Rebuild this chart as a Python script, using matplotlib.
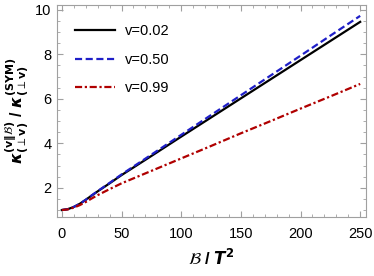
import matplotlib
matplotlib.use('Agg')
import matplotlib.pyplot as plt
from matplotlib.ticker import MultipleLocator

# valores
B = [0, 5, 10, 15, 20, 25, 30, 40, 50, 75, 100, 125, 150, 175, 200, 225, 250]
k002 = [1.0, 1.04, 1.14, 1.28, 1.46, 1.65, 1.84, 2.2, 2.57, 3.43, 4.3, 5.16, 6.02, 6.88, 7.74, 8.6, 9.46]
k050 = [1.0, 1.04, 1.14, 1.28, 1.46, 1.66, 1.85, 2.22, 2.6, 3.49, 4.38, 5.27, 6.16, 7.05, 7.94, 8.84, 9.73]
k099 = [1.0, 1.03, 1.11, 1.22, 1.36, 1.52, 1.67, 1.94, 2.2, 2.76, 3.32, 3.88, 4.45, 5.0, 5.56, 6.11, 6.67]
etiquetas = ['v=0.02', 'v=0.50', 'v=0.99']

plt.rcParams['font.family'] = ['Liberation Sans', 'DejaVu Sans']
plt.rcParams['mathtext.fontset'] = 'dejavusans'

fig = plt.figure(figsize=(3.74, 2.76), dpi=100)
ax = fig.add_axes([0.152, 0.214, 0.827, 0.768])

ax.plot(B, k002, color='black', lw=1.6, label=etiquetas[0])
ax.plot(B, k050, color='#1f1fc8', lw=1.6, ls=(0, (3.2, 1.6)), label=etiquetas[1])
ax.plot(B, k099, color='#b00000', lw=1.6, ls=(0, (3.2, 1.2, 1.0, 1.2)), label=etiquetas[2])

ax.set_xlim(-4.2, 255)
ax.set_ylim(0.69, 10.22)
ax.xaxis.set_major_locator(MultipleLocator(50))
ax.xaxis.set_minor_locator(MultipleLocator(10))
ax.yaxis.set_major_locator(MultipleLocator(2))
ax.yaxis.set_minor_locator(MultipleLocator(0.5))

for s in ax.spines.values():
    s.set_color('#a0a0a0')
ax.tick_params(which='both', direction='in', color='#a0a0a0', labelsize=10.5,
               top=True, right=True, pad=4)
ax.tick_params(axis='x', pad=7)
ax.tick_params(which='major', length=4)
ax.tick_params(which='minor', length=2)

ax.set_xlabel(r'$\mathcal{B}$ / $\boldsymbol{T}^\mathbf{2}$', fontsize=12, fontweight='bold', labelpad=5)
ax.set_ylabel(r'$\boldsymbol{\kappa}^{\mathbf{(v\Vert}\mathcal{B}\mathbf{)}}_{\mathbf{(}\perp\mathbf{v)}}$ / '
              r'$\boldsymbol{\kappa}^{\mathbf{(SYM)}}_{\mathbf{(}\perp\mathbf{v)}}$',
              fontsize=11.5, fontweight='bold', labelpad=2)

ax.legend(loc='upper left', frameon=False, fontsize=10.5, handlelength=2.75,
          handletextpad=0.68, labelspacing=1.0, borderaxespad=0, borderpad=0,
          bbox_to_anchor=(0.058, 0.91))

fig.savefig('out.png', dpi=100)
